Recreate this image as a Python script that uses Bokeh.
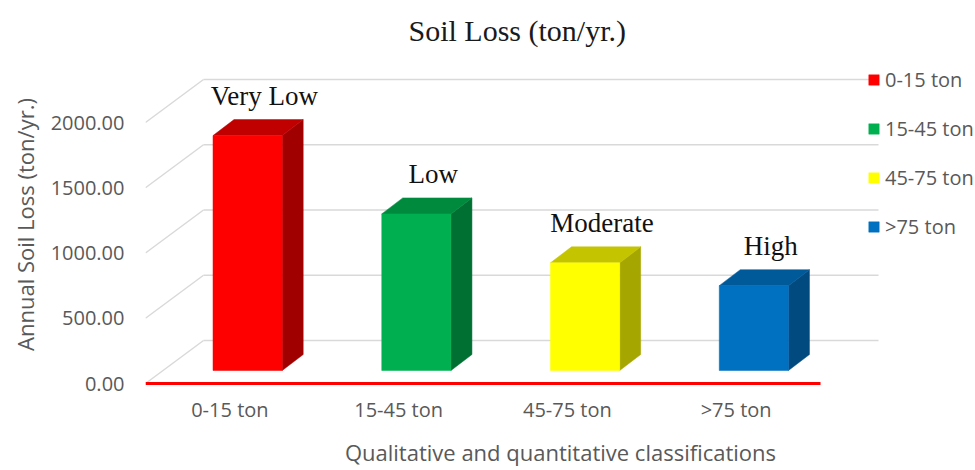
from bokeh.plotting import figure
from bokeh.models import (Range1d, FixedTicker, NumeralTickFormatter, Legend,
                          LegendItem, ColumnDataSource)
from bokeh.embed import file_html
from bokeh.resources import INLINE
from bokeh.core.properties import value

# ---------------- data ----------------
categories = ["0-15 ton", "15-45 ton", "45-75 ton", ">75 ton"]
soil_loss = [1800, 1200, 825, 650]
classes = ["Very Low", "Low", "Moderate", "High"]
front_colors = ["#FF0000", "#00B050", "#FFFF00", "#0070C0"]
side_colors = ["#A00000", "#006F32", "#A6A600", "#004A7F"]
top_colors = ["#C00000", "#008A3E", "#C4C400", "#005A9A"]
y_ticks = [0, 500, 1000, 1500, 2000]

# ---------------- 3D geometry (style constants) ----------------
SLOT_PX = 168.75
PX_PER_UNIT = 0.1305
WALL_DX = 58 / SLOT_PX
WALL_DY = 43 / PX_PER_UNIT
BAR_DX = 21 / SLOT_PX
BAR_DY = 16 / PX_PER_UNIT
BAR_BASE = 13 / PX_PER_UNIT
FACE_L, FACE_R = -0.10, 0.31

W, H = 975, 470
B_LEFT, B_TOP, B_BOTTOM = 145, 62, 84
FRAME_W = W - B_LEFT
FRAME_H = H - B_TOP - B_BOTTOM
y0 = -3 / PX_PER_UNIT

p = figure(width=W, height=H, output_backend="svg", toolbar_location=None,
           x_range=Range1d(-0.5, -0.5 + FRAME_W / SLOT_PX),
           y_range=Range1d(y0, y0 + FRAME_H / PX_PER_UNIT),
           min_border_left=B_LEFT, min_border_right=0,
           min_border_top=B_TOP, min_border_bottom=B_BOTTOM)
p.outline_line_color = None
p.xgrid.visible = False
p.ygrid.visible = False
p.background_fill_color = "white"
p.border_fill_color = "white"

n = len(categories)
xs = list(range(n))
x_left = -0.5
x_right = x_left + n

# back wall gridlines and floor/side diagonals
p.segment(x0=[x_left] * len(y_ticks), y0=y_ticks,
          x1=[x_left + WALL_DX] * len(y_ticks), y1=[t + WALL_DY for t in y_ticks],
          line_color="#D9D9D9", line_width=1.5)
p.segment(x0=[x_left + WALL_DX] * len(y_ticks), y0=[t + WALL_DY for t in y_ticks],
          x1=[x_right + WALL_DX] * len(y_ticks), y1=[t + WALL_DY for t in y_ticks],
          line_color="#D9D9D9", line_width=1.5)

# bars
lefts = [i + FACE_L for i in xs]
rights = [i + FACE_R for i in xs]
bottoms = [BAR_BASE] * n
tops = [BAR_BASE + v for v in soil_loss]

side_xs = [[r, r + BAR_DX, r + BAR_DX, r] for r in rights]
side_ys = [[b, b + BAR_DY, t + BAR_DY, t] for b, t in zip(bottoms, tops)]
top_xs = [[l, l + BAR_DX, r + BAR_DX, r] for l, r in zip(lefts, rights)]
top_ys = [[t, t + BAR_DY, t + BAR_DY, t] for t in tops]

p.patches(xs=side_xs, ys=side_ys, fill_color=side_colors, line_color=side_colors, line_width=0.5)
p.patches(xs=top_xs, ys=top_ys, fill_color=top_colors, line_color=top_colors, line_width=0.5)
front_src = ColumnDataSource(dict(left=lefts, right=rights, bottom=bottoms, top=tops,
                                  color=front_colors, cat=categories))
r_front = p.quad(left="left", right="right", bottom="bottom", top="top", source=front_src,
                 fill_color="color", line_color="color", line_width=0.5)

# red floor line
p.segment(x0=[x_left], y0=[0], x1=[x_right], y1=[0], line_color="#FF0000", line_width=3)

# class labels
p.text(x=[i + 0.205 for i in xs], y=[t + BAR_DY for t in tops], text=classes,
       text_font=value("Liberation Serif"), text_font_size="27px", text_color="#111111",
       text_align="center", text_baseline="alphabetic", y_offset=-24)

# axes
p.xaxis.ticker = FixedTicker(ticks=xs)
p.xaxis.major_label_overrides = {i: c for i, c in zip(xs, categories)}
p.yaxis.ticker = FixedTicker(ticks=y_ticks)
p.yaxis.formatter = NumeralTickFormatter(format="0.00")
for ax in (p.xaxis[0], p.yaxis[0]):
    ax.axis_line_color = None
    ax.major_tick_line_color = None
    ax.minor_tick_line_color = None
    ax.major_tick_out = 0
    ax.major_tick_in = 0
    ax.major_label_text_font = "Open Sans"
    ax.major_label_text_font_size = "20px"
    ax.major_label_text_color = "#595959"
    ax.axis_label_text_font = "Open Sans"
    ax.axis_label_text_color = "#595959"
    ax.axis_label_text_font_style = "normal"
p.xaxis.axis_label = "Qualitative and quantitative classifications"
p.xaxis.axis_label_text_font_size = "22px"
p.xaxis.major_label_standoff = 9
p.xaxis.axis_label_standoff = 11
p.yaxis.axis_label = "Annual Soil Loss (ton/yr.)"
p.yaxis.axis_label_text_font_size = "22px"
p.yaxis.major_label_standoff = 21
p.yaxis.axis_label_standoff = 8

# title
p.title.text = "Soil Loss (ton/yr.)"
p.title.text_font = "Liberation Serif"
p.title.text_font_size = "30px"
p.title.text_font_style = "normal"
p.title.text_color = "#1a1a1a"
p.title.align = "left"
p.title.offset = 263
p.title.standoff = 27
p.title.vertical_align = "top"

# legend
items = [LegendItem(label=c, renderers=[r_front], index=i) for i, c in enumerate(categories)]
legend = Legend(items=items, location=(722, 146), orientation="vertical",
                glyph_width=13, glyph_height=13, label_standoff=5, spacing=22,
                label_height=20, padding=0, margin=0,
                label_text_font="Open Sans", label_text_font_size="20px",
                label_text_color="#595959", border_line_color=None,
                background_fill_alpha=0)
p.add_layout(legend)

open("out.html", "w").write(file_html(p, INLINE))
